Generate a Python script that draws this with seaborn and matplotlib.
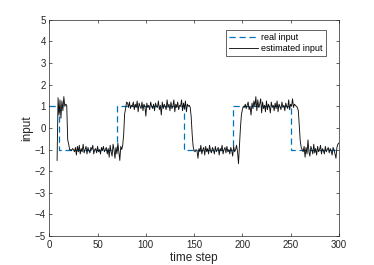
import numpy as np
import pandas as pd
import seaborn as sns
import matplotlib.pyplot as plt

# real input: piecewise constant levels between switch times
switch_times = [0, 10, 70, 140, 190, 250, 300]
levels = [1, -1, 1, -1, 1, -1]

# estimated input, starting at time step 8
est_start = 8
est_a = [-1.5, 1.4, 0.6, 1.3, 0.45, 1.25, 0.8, 1.45, 1.0, 1.1, 1.05, -0.55, -0.75, -1.0]
est_b = [-1.0, -1.05, -0.95, -1.0, -1.1, -0.9, -1.25, -0.85, -1.1, -0.8,
         -1.2, -0.95, -1.1, -0.75, -1.15, -1.0, -0.85, -1.2, -0.9, -1.05,
         -1.15, -0.9, -1.0, -0.8, -1.2, -1.0, -0.95, -1.15, -0.85, -1.1,
         -1.0, -1.2, -0.9, -1.05, -0.85, -1.1, -1.0, -0.9, -1.2, -0.95,
         -1.35, -0.8, -1.1, -1.3, -0.75, -1.0, -1.4, -0.9, -1.2, -0.7,
         -1.1, -1.5, -0.85, -1.0, -0.8]
est_c = [-0.3, 0.65, 0.9, 1.2]
est_d = [1.15, 0.95, 1.2, 0.9, 1.05, 1.0, 1.2, 0.85, 1.1, 0.95,
         1.25, 0.75, 1.15, 1.0, 0.9, 1.2, 0.8, 1.1, 1.0, 0.55,
         1.15, 0.95, 1.05, 0.85, 1.2, 1.0, 0.9, 1.1, 0.8, 1.15,
         1.0, 0.95, 1.25, 0.85, 1.05, 0.6, 1.2, 0.9, 1.1, 1.0,
         0.85, 1.3, 0.95, 1.1, 0.8, 1.2, 0.9, 1.0, 1.3, 0.75,
         1.1, 0.95, 1.2, 0.85, 1.05, 1.0, 1.3, 0.8, 1.15, 0.9,
         1.25, 0.75, 1.1, 1.0, 1.05, 0.95]
est_e = [0.5, -0.3, -0.85, -1.05]
est_f = [-1.1, -1.0, -1.05, -1.4, -0.95, -1.1, -0.8, -1.2, -1.0, -0.9,
         -1.25, -0.85, -1.1, -0.95, -1.2, -0.8, -1.05, -1.15, -0.9, -1.0,
         -1.2, -0.85, -1.1, -1.0, -0.9, -1.25, -0.95, -1.05, -0.8, -1.2,
         -1.0, -0.9, -1.15, -0.85, -1.1, -1.0, -1.2, -0.9, -1.05, -1.3,
         -0.85, -1.1, -1.0, -0.8, -1.1]
est_g = [-1.65, -0.85, 0.0, 0.6, 0.85, 1.0]
est_h = [0.95, 1.1, 0.9, 1.05, 1.2, 0.85, 1.0, 0.6, 1.15, 0.9,
         1.25, 1.0, 1.45, 0.8, 1.3, 0.95, 1.1, 1.35, 0.7, 1.2,
         0.9, 1.05, 0.75, 1.25, 0.85, 1.1, 1.0, 0.7, 1.2, 0.95,
         1.05, 0.8, 1.15, 0.9, 1.25, 0.75, 1.1, 1.0, 0.85, 1.2,
         0.95, 1.05, 0.8, 1.15, 1.0, 0.9, 1.3, 0.85, 1.1, 1.0,
         1.35, 0.95, 1.1, 1.05, 1.0, 0.95]
est_i = [0.8, 0.1, -0.6, -0.9, -1.0]
est_j = [-1.1, -0.85, -1.35, -0.9, -1.2, -0.55, -1.1, -1.3, -0.85, -1.0,
         -1.2, -0.75, -1.15, -0.95, -1.25, -0.85, -1.1, -1.0, -0.8, -1.2,
         -0.95, -1.05, -1.2, -0.85, -1.1, -1.0, -0.9, -1.15, -0.95, -1.05,
         -1.25, -0.9, -1.0, -1.2, -1.4, -0.9, -0.75, -0.7]

estimated = est_a + est_b + est_c + est_d + est_e + est_f + est_g + est_h + est_i + est_j

# Build data frames
df_real = pd.DataFrame({'t': switch_times, 'u': levels + [levels[-1]]})
df_est = pd.DataFrame({'t': np.arange(est_start, est_start + len(estimated)), 'u': estimated})

plt.rcParams['font.family'] = ['Liberation Sans', 'DejaVu Sans']

fig = plt.figure(figsize=(3.74, 2.65), dpi=100)
ax = fig.add_axes([0.132, 0.109, 0.774, 0.816])

sns.lineplot(data=df_real, x='t', y='u', ax=ax, color='#0072BD', lw=0.9,
             drawstyle='steps-post', dashes=False, linestyle=(0, (5, 3)), label='real input')
sns.lineplot(data=df_est, x='t', y='u', ax=ax, color='#111111', lw=0.65, label='estimated input')

ax.set_xlim(0, 300)
ax.set_ylim(-5, 5)
ax.set_xticks(range(0, 301, 50))
ax.set_yticks(range(-5, 6))
ax.set_xlabel('time step', fontsize=8.5, color='#262626', labelpad=2)
ax.set_ylabel('input', fontsize=8.5, color='#262626', labelpad=1)
ax.tick_params(direction='in', top=True, right=True, length=2.5, width=0.5,
               labelsize=7, colors='#262626', pad=2.5)
for s in ax.spines.values():
    s.set_linewidth(0.5)
    s.set_color('#262626')

leg = ax.legend(loc='upper right', bbox_to_anchor=(0.97, 0.975), fontsize=6.5, frameon=True,
                fancybox=False, framealpha=1, edgecolor='#262626', borderpad=0.35,
                handlelength=3.2, labelspacing=0.2, handletextpad=0.3)
leg.get_frame().set_linewidth(0.5)
leg.get_lines()[0].set_color('#0072BD')

fig.savefig('out.png', dpi=100)
